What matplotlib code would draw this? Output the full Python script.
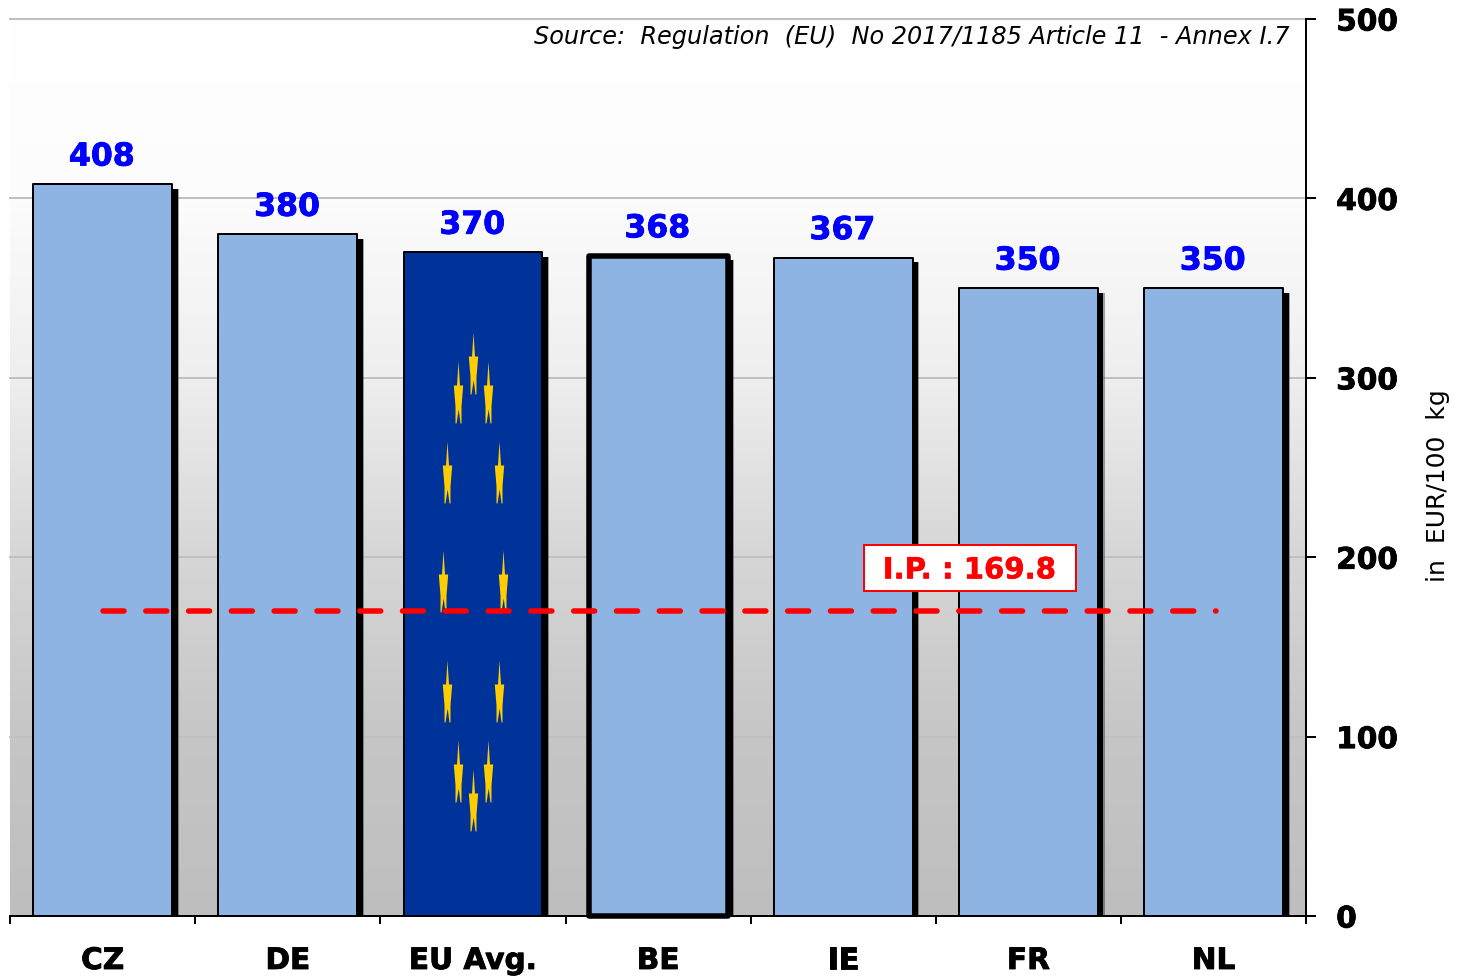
import numpy as np
import matplotlib
matplotlib.use("Agg")
import matplotlib.pyplot as plt
import matplotlib.patheffects as pe
from matplotlib.colors import LinearSegmentedColormap
from matplotlib.path import Path
from matplotlib.patches import Rectangle

categories = ["CZ", "DE", "EU Avg.", "BE", "IE", "FR", "NL"]
values = [408, 380, 370, 368, 367, 350, 350]
reference_value = 169.8
reference_label = "I.P. : 169.8"
y_ticks = [0, 100, 200, 300, 400, 500]
source_text = "Source:  Regulation  (EU)  No 2017/1185 Article 11  - Annex I.7"
y_label = "in  EUR/100  kg"

PX = 72 / 100  # points per pixel
plt.rcParams["font.family"] = ["DejaVu Sans"]

fig = plt.figure(figsize=(14.62, 9.76), dpi=100, facecolor="white")
ax = fig.add_axes([10.2 / 1462, 60 / 976, 1296 / 1462, 897 / 976])
ax.set_xlim(-0.5, len(categories) - 0.5)
ax.set_ylim(0, 500)


def heavy(color, w=0.6):
    return [pe.withStroke(linewidth=w, foreground=color)]


# gradient plot background
bg = LinearSegmentedColormap.from_list(
    "bg", [(0.0, "#bebebe"), (0.2, "#c6c6c6"), (0.4, "#d6d6d6"),
           (0.6, "#eeeeee"), (0.8, "#fcfcfc"), (1.0, "#ffffff")])
ax.imshow(np.linspace(1, 0, 256).reshape(-1, 1), extent=(-0.5, 6.5, 0, 500), aspect="auto",
          cmap=bg, vmin=0, vmax=1, zorder=0, interpolation="bilinear")

for t in y_ticks:
    ax.axhline(t, color="#c0c0c0", lw=2 * PX, zorder=1, clip_on=False)

x = np.arange(len(categories))
bar_width = 0.75
shift_x = 5.5 / 185.14
colors = ["#8EB4E3", "#8EB4E3", "#003399", "#8EB4E3", "#8EB4E3", "#8EB4E3", "#8EB4E3"]
edge_w = [2, 2, 2, 5.5, 2, 2, 2]

# drop shadow (soft outer rim, then solid core)
ax.bar(x + shift_x + 1.2 / 185.14, np.array(values) - 2.5, width=bar_width, color="black",
       alpha=0.35, linewidth=0, zorder=2)
ax.bar(x + shift_x, np.array(values) - 2.5, width=bar_width, color="black", linewidth=0, zorder=2)
bars = ax.bar(x, values, width=bar_width, color=colors, edgecolor="black",
              linewidth=[w * PX for w in edge_w], zorder=3, clip_on=False)
for b in bars:
    b.set_joinstyle("round")

for xi, v in zip(x, values):
    ax.annotate(str(v), (xi, v), xytext=(-1 * PX, 18.5 * PX), textcoords="offset points",
                ha="center", va="baseline", color="#0000FF", fontsize=22.7,
                fontweight="bold", zorder=6, path_effects=heavy("#0000FF"))

# EU stars on the EU bar
star = Path([(0, 31), (1.5, 7), (4.7, 7), (3.0, -14), (3.0, -31), (2.0, -31), (0.2, -17),
             (-2.0, -31), (-3.0, -31), (-3.0, -14), (-4.7, 7), (-1.5, 7), (0, 31)], closed=True)
theta = np.deg2rad(np.arange(0, 360, 30))
ax.scatter(2 + 0.162 * np.sin(theta), 186.5 + 122 * np.cos(theta), marker=star,
           s=(62 * PX) ** 2, color="#FFCC00", linewidths=0, zorder=4)

# intervention price line and label
ax.plot([0, 6.015], [reference_value, reference_value], color="#FF0000", lw=5.5 * PX,
        linestyle=(0, (3.82, 3.96)), dash_capstyle="round", zorder=5)
ax.add_patch(Rectangle((4.114, 181.2), 1.14, 25.6, facecolor="white", edgecolor="#FF0000",
                       linewidth=2 * PX, zorder=6))
ax.text(4.68, 194.3, reference_label, color="#FF0000", fontsize=21, fontweight="bold",
        ha="center", va="center_baseline", zorder=7, path_effects=heavy("#FF0000", 0.4))

ax.text(6.41, 496.5, source_text, style="italic", fontsize=17.3, color="black",
        ha="right", va="top", zorder=6)

# axes
for s in ("left", "top"):
    ax.spines[s].set_visible(False)
for s in ("right", "bottom"):
    ax.spines[s].set_linewidth(2 * PX)
    ax.spines[s].set_color("black")
    ax.spines[s].set_zorder(8)

ax.yaxis.tick_right()
ax.set_yticks(y_ticks)
ax.set_yticklabels([str(t) for t in y_ticks], fontsize=21.3, fontweight="bold")
ax.tick_params(axis="y", direction="out", length=10 * PX, width=2 * PX, pad=20 * PX)
for lab in ax.get_yticklabels():
    lab.set_ha("left")
    lab.set_path_effects(heavy("black"))

ax.set_xticks(np.arange(-0.5, 7, 1))
ax.set_xticklabels([])
ax.set_xticks(x, minor=True)
ax.set_xticklabels(categories, minor=True, fontsize=21.3, fontweight="bold")
ax.tick_params(axis="x", which="major", direction="out", length=8 * PX, width=2 * PX)
ax.tick_params(axis="x", which="minor", length=0, pad=53 * PX)
for lab in ax.get_xticklabels(minor=True):
    lab.set_va("baseline")
    lab.set_path_effects(heavy("black"))

fig.text(1438.5 / 1462, 1 - 486 / 976, y_label, rotation=90, fontsize=18,
         ha="center", va="center", color="black")

fig.savefig("out.png", dpi=100, facecolor="white")
